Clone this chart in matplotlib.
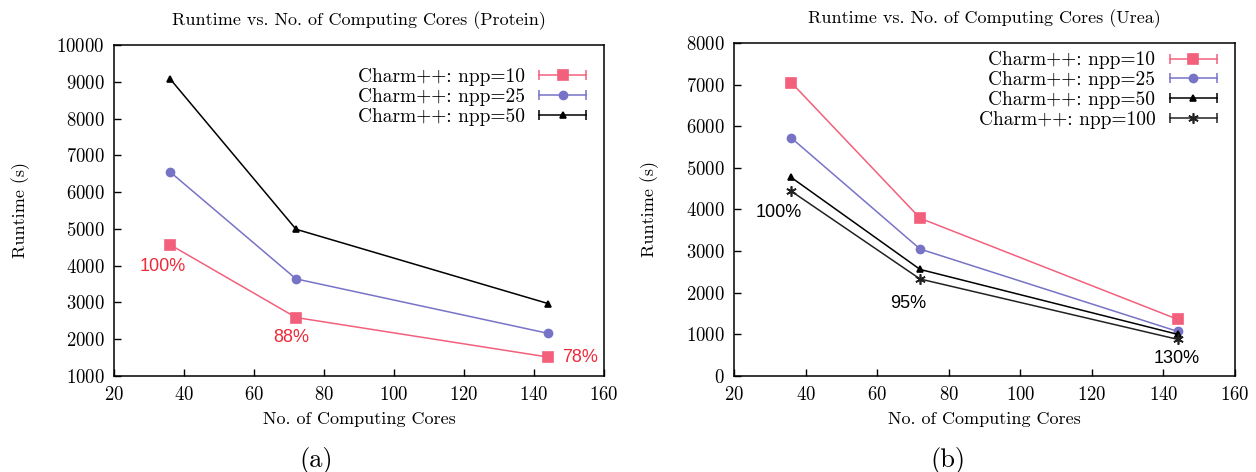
import numpy as np
import matplotlib
matplotlib.use("Agg")
import matplotlib.pyplot as plt
from matplotlib.lines import Line2D
from matplotlib.legend_handler import HandlerLine2D, HandlerTuple

plt.rcParams['font.family'] = 'cmr10'
plt.rcParams['axes.formatter.use_mathtext'] = True
plt.rcParams['font.size'] = 13.5

cores = [36, 72, 144]

# protein runtimes (s)
prot_npp10 = [4570, 2590, 1515]
prot_npp25 = [6550, 3640, 2160]
prot_npp50 = [9080, 4990, 2970]
prot_eff = ['100%', '88%', '78%']

# urea runtimes (s)
urea_npp10 = [7050, 3790, 1360]
urea_npp25 = [5720, 3050, 1070]
urea_npp50 = [4770, 2560, 1000]
urea_npp100 = [4440, 2330, 880]
urea_eff = ['100%', '95%', '130%']

pink = '#f2607c'
purple = '#7773c6'
red = '#ee2a3a'
star = (6, 2, 0)

fig = plt.figure(figsize=(12.56, 4.72), dpi=100)
ax1 = fig.add_axes([0.0908, 0.2034, 0.3901, 0.7013])
ax2 = fig.add_axes([0.5844, 0.2034, 0.3989, 0.7055])

hmap = {tuple: HandlerTuple(ndivide=1, pad=0)}


def style(ax, title, ylim, yticks):
    ax.set_xlim(20, 160)
    ax.set_xticks(range(20, 161, 20))
    ax.set_ylim(*ylim)
    ax.set_yticks(yticks)
    ax.tick_params(direction='in', length=5, width=1, top=False, right=False, pad=7)
    for s in ax.spines.values():
        s.set_linewidth(1.1)
    ax.set_title(title, fontsize=13, pad=14)
    ax.set_xlabel('No. of Computing Cores', fontsize=13, labelpad=6)
    ax.set_ylabel('Runtime (s)', fontsize=13, labelpad=19)


def series(ax, y, color, marker, ms, label):
    ax.plot(cores, y, color=color, marker=marker, ms=ms, lw=1.1, mew=1.2, clip_on=False)
    # key entry drawn like a gnuplot errorbar: line with end caps, marker in middle
    caps = Line2D([], [], color=color, lw=1.1, marker='|', ms=7, mew=1.1)
    mid = Line2D([], [], color=color, lw=0, marker=marker, ms=ms, mew=1.2)
    hmap[caps] = HandlerLine2D(numpoints=2)
    hmap[mid] = HandlerLine2D(numpoints=1)
    return (caps, mid), label


def add_legend(ax, entries, anchor):
    hs = [e[0] for e in entries]
    ls = [e[1] for e in entries]
    ax.legend(hs, ls, loc='upper right', bbox_to_anchor=anchor, frameon=False, markerfirst=False,
              handlelength=3.0, labelspacing=0.1, borderaxespad=0, borderpad=0, fontsize=14,
              handletextpad=0.45, handler_map=hmap)


# (a) protein
e = []
e.append(series(ax1, prot_npp10, pink, 's', 7, 'Charm++: npp=10'))
e.append(series(ax1, prot_npp25, purple, 'o', 5.8, 'Charm++: npp=25'))
e.append(series(ax1, prot_npp50, 'black', '^', 5, 'Charm++: npp=50'))
style(ax1, 'Runtime vs. No. of Computing Cores (Protein)', (1000, 10000), range(1000, 10001, 1000))
add_legend(ax1, e, (0.975, 0.93))

offs1 = [(-7, -22, 'center'), (-5, -20, 'center'), (14, 0, 'left')]
for x, y, t, (dx, dy, ha) in zip(cores, prot_npp10, prot_eff, offs1):
    ax1.annotate(t, (x, y), xytext=(dx, dy), textcoords='offset pixels', ha=ha, va='center',
                 color=red, fontsize=13, family='Liberation Sans')

# (b) urea
e = []
e.append(series(ax2, urea_npp10, pink, 's', 7, 'Charm++: npp=10'))
e.append(series(ax2, urea_npp25, purple, 'o', 5.8, 'Charm++: npp=25'))
e.append(series(ax2, urea_npp50, 'black', '^', 5, 'Charm++: npp=50'))
e.append(series(ax2, urea_npp100, '#222222', star, 7.5, 'Charm++: npp=100'))
style(ax2, 'Runtime vs. No. of Computing Cores (Urea)', (0, 8000), range(0, 8001, 1000))
add_legend(ax2, e, (0.975, 0.975))

offs2 = [(-13, -21), (-12, -24), (-1, -19)]
for x, y, t, (dx, dy) in zip(cores, urea_npp100, urea_eff, offs2):
    ax2.annotate(t, (x, y), xytext=(dx, dy), textcoords='offset pixels', ha='center', va='center',
                 color='black', fontsize=13, family='Liberation Sans')

fig.text(316 / 1256, 1 - 460 / 472, '(a)', ha='center', va='center', fontsize=19)
fig.text(948 / 1256, 1 - 460 / 472, '(b)', ha='center', va='center', fontsize=19)

fig.savefig('out.png', dpi=100)
